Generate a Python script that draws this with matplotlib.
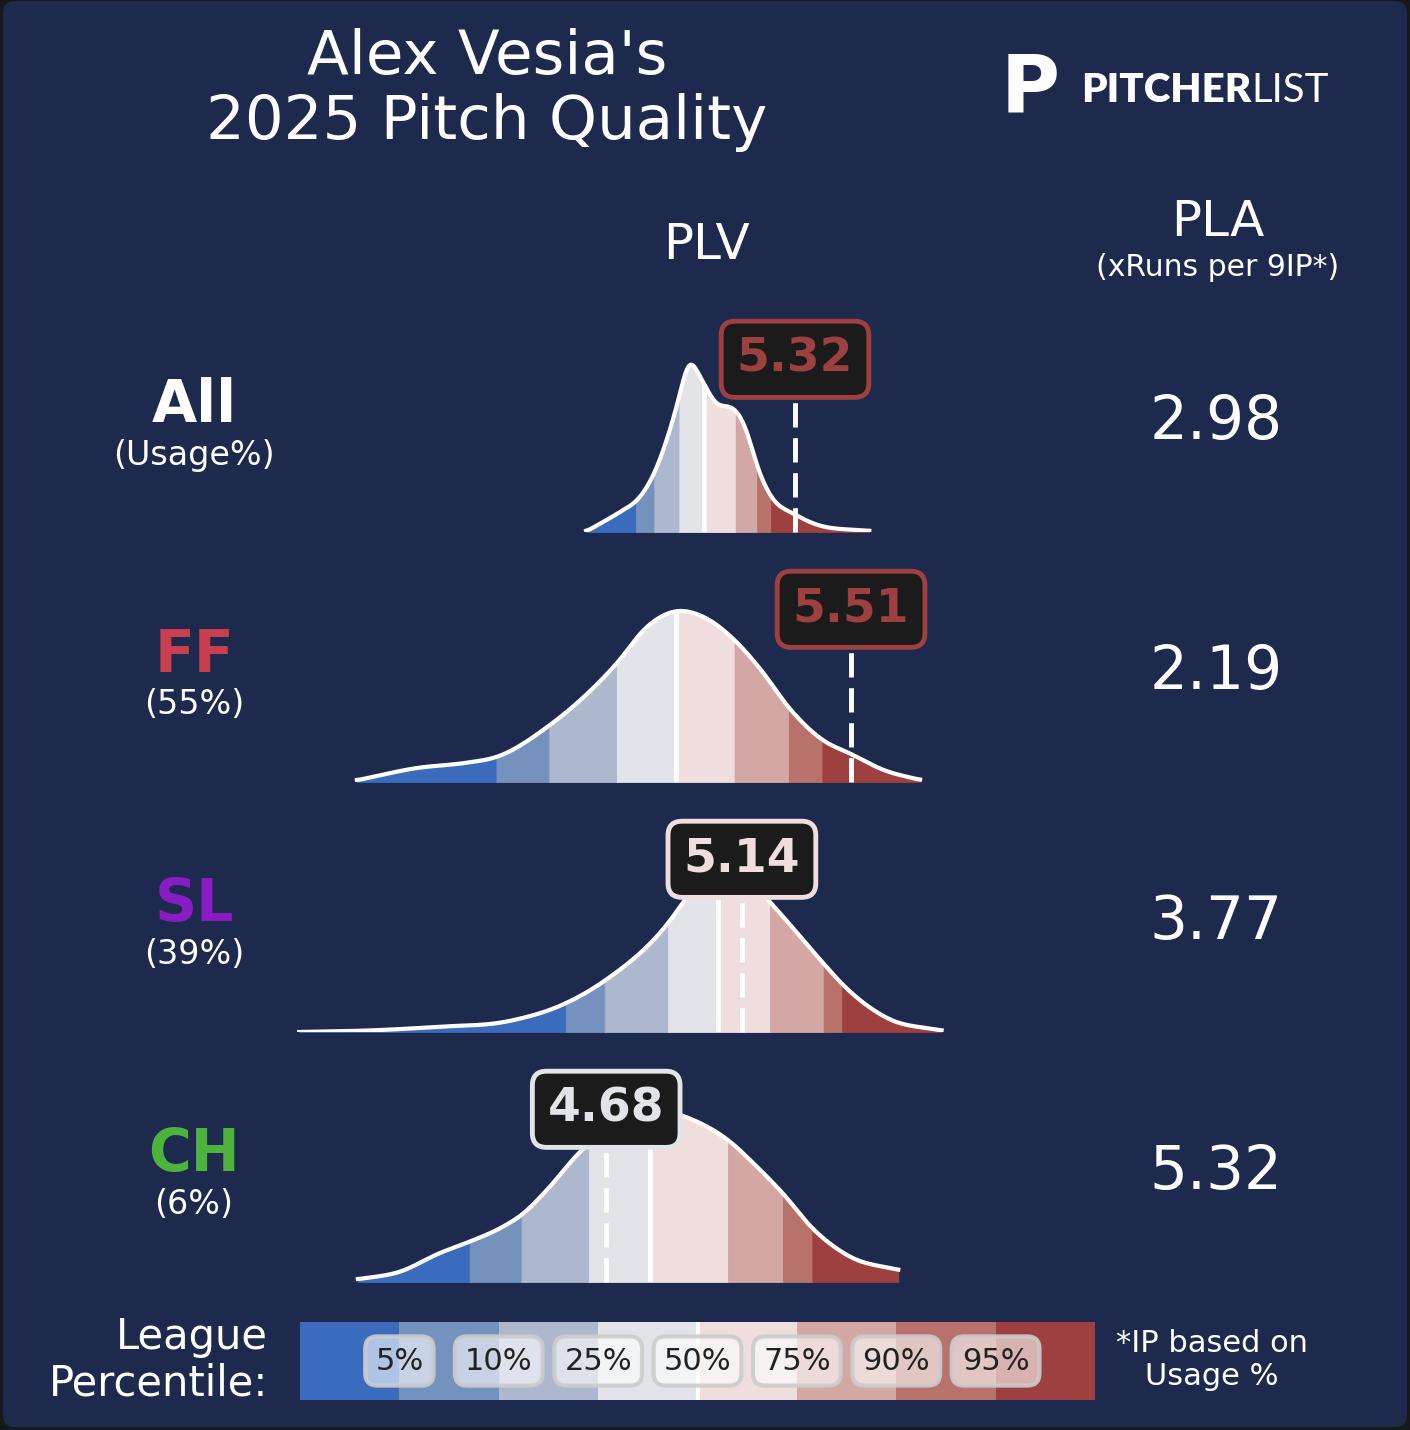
import numpy as np
import matplotlib.pyplot as plt
from matplotlib.patches import FancyBboxPatch

# ---- data ----
pitches = ["All", "FF", "SL", "CH"]
usage = ["(Usage%)", "(55%)", "(39%)", "(6%)"]
pitch_colors = ["white", "#c8404f", "#8a1cc6", "#4db33d"]
plv = [5.32, 5.51, 5.14, 4.68]
pla = [2.98, 2.19, 3.77, 5.32]

# league percentile cut points (5,10,25,50,75,90,95) per row
pct_all = [4.781, 4.843, 4.928, 5.012, 5.119, 5.192, 5.239]
pct_ff = [4.308, 4.487, 4.716, 4.918, 5.115, 5.299, 5.413]
pct_sl = [4.543, 4.675, 4.889, 5.059, 5.235, 5.417, 5.480]
pct_ch = [4.217, 4.393, 4.622, 4.830, 5.093, 5.279, 5.379]

# density curves (PLV, height relative to peak)
all_x = [4.612, 4.738, 4.781, 4.843, 4.896, 4.928, 4.958, 4.998, 5.055,
         5.100, 5.119, 5.156, 5.192, 5.239, 5.314, 5.382, 5.572]
all_y = [0.002, 0.129, 0.178, 0.343, 0.596, 0.791, 1.0, 0.908, 0.745,
         0.734, 0.714, 0.596, 0.381, 0.205, 0.108, 0.05, 0.006]
ff_x = [3.835, 4.039, 4.208, 4.308, 4.486, 4.717, 4.818, 4.918, 5.011,
        5.115, 5.205, 5.300, 5.413, 5.510, 5.620, 5.744]
ff_y = [0.01, 0.082, 0.113, 0.146, 0.329, 0.696, 0.908, 1.0, 0.965,
        0.83, 0.655, 0.433, 0.246, 0.164, 0.07, 0.012]
sl_x = [3.639, 3.893, 4.106, 4.351, 4.543, 4.675, 4.889, 4.942, 5.0,
        5.07, 5.14, 5.235, 5.417, 5.480, 5.634, 5.817]
sl_y = [0.0, 0.01, 0.03, 0.064, 0.168, 0.30, 0.635, 0.76, 0.90,
        0.98, 0.93, 0.76, 0.40, 0.28, 0.08, 0.008]
ch_x = [3.838, 3.981, 4.114, 4.217, 4.320, 4.393, 4.489, 4.586, 4.727,
        4.879, 4.962, 5.093, 5.191, 5.279, 5.379, 5.506, 5.670]
ch_y = [0.016, 0.06, 0.168, 0.236, 0.314, 0.392, 0.557, 0.752, 0.93,
        1.0, 0.957, 0.83, 0.674, 0.518, 0.314, 0.148, 0.07]

pct_labels = ["5%", "10%", "25%", "50%", "75%", "90%", "95%"]
band_colors = ["#3a6bbd", "#7591bd", "#adb8ce", "#e3e4ea",
               "#f0dede", "#d3a7a4", "#b9716c", "#9d403f"]

curves = [(all_x, all_y, pct_all), (ff_x, ff_y, pct_ff),
          (sl_x, sl_y, pct_sl), (ch_x, ch_y, pct_ch)]

NAVY = "#1d2a4d"
W, H = 1410, 1430


def smooth_curve(x, y, cuts, n=900, sigma=0.014):
    x = np.asarray(x, float)
    y = np.asarray(y, float)
    m = np.gradient(y, x)
    g = np.linspace(x[0], x[-1], n)
    i = np.clip(np.searchsorted(x, g) - 1, 0, len(x) - 2)
    h = x[i + 1] - x[i]
    t = (g - x[i]) / h
    yg = ((2 * t**3 - 3 * t**2 + 1) * y[i] + (t**3 - 2 * t**2 + t) * h * m[i]
          + (-2 * t**3 + 3 * t**2) * y[i + 1] + (t**3 - t**2) * h * m[i + 1])
    # light gaussian smoothing to round off the joins
    step = g[1] - g[0]
    k = np.arange(-int(4 * sigma / step), int(4 * sigma / step) + 1) * step
    ker = np.exp(-0.5 * (k / sigma) ** 2)
    ker /= ker.sum()
    pad = len(k) // 2
    yp = np.concatenate([np.full(pad, yg[0]), yg, np.full(pad, yg[-1])])
    yg = np.convolve(yp, ker, mode="valid")
    xs = np.union1d(g, [c for c in cuts if x[0] <= c <= x[-1]])
    return xs, np.clip(np.interp(xs, g, yg), 0, None)


def band_color(val, cuts):
    return band_colors[int(np.searchsorted(cuts, val))]


fig = plt.figure(figsize=(W / 100, H / 100), dpi=100)
fig.patch.set_facecolor("#17181c")

bg = fig.add_axes([0, 0, 1, 1], zorder=0)
bg.set_xlim(0, W)
bg.set_ylim(H, 0)
bg.axis("off")
bg.add_patch(FancyBboxPatch((3, 1), W - 6, H - 4,
                            boxstyle="round,pad=0,rounding_size=12",
                            fc=NAVY, ec="none"))

# title + headers
bg.text(487, 90, "Alex Vesia's\n2025 Pitch Quality", ha="center", va="center",
        fontsize=44, color="white", linespacing=1.15)
bg.text(707, 245, "PLV", ha="center", va="center", fontsize=36, color="white")
bg.text(1218, 222, "PLA", ha="center", va="center", fontsize=36, color="white")
bg.text(1218, 267, "(xRuns per 9IP*)", ha="center", va="center",
        fontsize=21.5, color="white")

# logo
bg.text(1030, 90, "P", ha="center", va="center", fontsize=58,
        fontweight="bold", color="white")
t1 = bg.text(1081, 91, "PITCHER", ha="left", va="center", fontsize=29,
             family="Lato", fontweight="heavy", color="white")
bg.annotate("LIST", xy=(1, 0.5), xycoords=t1, ha="left", va="center",
            fontsize=29, family="Lato", fontweight="normal", color="white")

xlo = 5 + (290 - 700.6) / 295
xhi = 5 + (950 - 700.6) / 295
ytop = 210 / 171

for r in range(4):
    base = 532 + 250 * r
    cx, cy, cuts = curves[r]

    bg.text(194, base - 127, pitches[r], ha="center", va="center", fontsize=42,
            fontweight="bold", color=pitch_colors[r])
    bg.text(194, base - 77, usage[r], ha="center", va="center", fontsize=24,
            color="white")
    bg.text(1216, base - 109, f"{pla[r]:.2f}", ha="center", va="center",
            fontsize=43, color="white")

    ax = fig.add_axes([290 / W, 1 - base / H, 660 / W, 210 / H], zorder=2)
    ax.set_xlim(xlo, xhi)
    ax.set_ylim(0, ytop)
    ax.axis("off")

    xs, ys = smooth_curve(cx, cy, cuts)

    edges = [cx[0]] + list(cuts) + [cx[-1]]
    for k in range(8):
        m = (xs >= edges[k]) & (xs <= edges[k + 1])
        if m.sum() < 2:
            continue
        ax.fill_between(xs[m], 0, ys[m], color=band_colors[k], lw=0.6,
                        edgecolor=band_colors[k], zorder=1)

    med = cuts[3]
    ax.plot([med, med], [0, np.interp(med, xs, ys)], color="white", lw=3.5,
            zorder=3, solid_capstyle="butt")
    ax.plot(xs, ys, color="white", lw=3, zorder=4)

    val = plv[r]
    ec = band_color(val, cuts)
    ax.plot([val, val], [0, 1.0], color="white", lw=3.5,
            linestyle=(0, (5, 2.2)), zorder=5, clip_on=False)
    ax.text(val, 1.01, f"{val:.2f}", ha="center", va="center", fontsize=34,
            fontweight="bold", color=ec, zorder=6, clip_on=False,
            bbox=dict(boxstyle="round,pad=0.33,rounding_size=0.3",
                      fc="#1b1b1b", ec=ec, lw=3.5))

# legend bar
lax = fig.add_axes([300 / W, 1 - 1400 / H, 795 / W, 78 / H], zorder=2)
lax.bar(range(8), 1, width=1, align="edge", color=band_colors, lw=0)
lax.plot([4, 4], [0, 1], color="white", lw=3)
lax.set_xlim(0, 8)
lax.set_ylim(0, 1)
lax.axis("off")
for k, lab in enumerate(pct_labels):
    lax.text(k + 1, 0.5, lab, ha="center", va="center", fontsize=22,
             color="#222222",
             bbox=dict(boxstyle="round,pad=0.33,rounding_size=0.4",
                       fc=(1, 1, 1, 0.6), ec=(0.8, 0.8, 0.8, 0.9), lw=3))

bg.text(268, 1360, "League\nPercentile:", ha="right", va="center",
        fontsize=30, color="white", linespacing=1.15, multialignment="right")
bg.text(1212, 1360, "*IP based on\nUsage %", ha="center", va="center",
        fontsize=22, color="white", linespacing=1.2)

fig.savefig("out.png", dpi=100, facecolor=fig.get_facecolor())
